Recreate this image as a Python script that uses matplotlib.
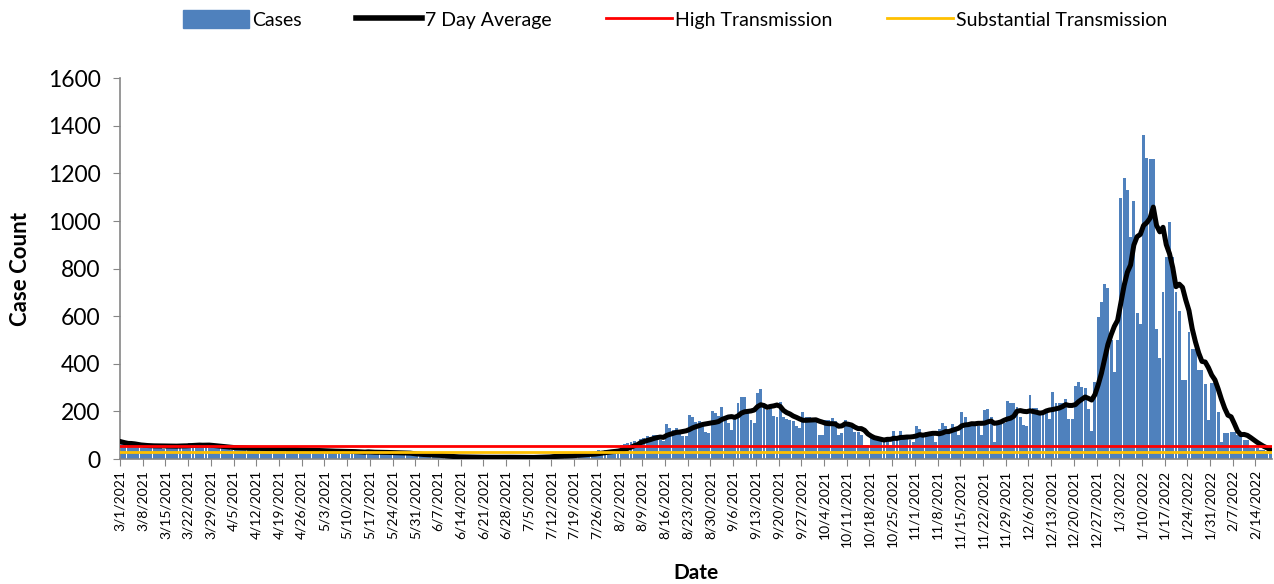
import numpy as np
import pandas as pd
import matplotlib

matplotlib.use("Agg")
import matplotlib.pyplot as plt
from matplotlib.patches import Patch
from matplotlib.lines import Line2D

# daily case counts, 3/1/2021 .. 2/18/2022
cases_mar21 = [72, 65, 60, 64, 58, 50, 45, 62, 58, 55, 60, 57, 48, 44,
               60, 57, 55, 58, 62, 50, 46, 66, 62, 60, 64, 58, 52, 48,
               58, 52, 50]
cases_apr21 = [52, 48, 42, 38, 52, 48, 46, 48, 44, 40, 36, 50, 47, 45,
               46, 43, 39, 35, 46, 42, 40, 42, 38, 34, 31, 42, 38, 36,
               38, 34]
cases_may21 = [30, 27, 38, 35, 33, 35, 31, 28, 25, 36, 33, 31, 29, 26,
               24, 33, 30, 28, 30, 27, 24, 22, 30, 27, 25, 27, 24, 21,
               19, 16, 16]
cases_jun21 = [20, 18, 19, 16, 13, 11, 12, 11, 10, 10, 9, 7, 6, 10,
               9, 8, 9, 7, 5, 4, 10, 8, 8, 9, 7, 6, 5, 9, 8, 7]
cases_jul21 = [8, 7, 5, 4, 6, 10, 10, 11, 10, 8, 7, 16, 14, 15, 16,
               14, 11, 10, 24, 22, 22, 24, 21, 17, 15, 38, 35, 36, 38,
               34, 28]
cases_aug21 = [25, 58, 64, 68, 70, 76, 62, 84, 90, 96, 94, 101, 101, 80,
               75, 147, 129, 122, 130, 109, 97, 95, 185, 178, 157, 160,
               143, 115, 110, 203, 192]
cases_sep21 = [180, 220, 180, 151, 122, 180, 237, 259, 259, 193, 164, 150,
               279, 293, 235, 206, 220, 180, 176, 239, 175, 170, 165, 160,
               140, 130, 199, 175, 175, 170]
cases_oct21 = [165, 101, 101, 164, 164, 174, 160, 101, 110, 164, 150, 140,
               115, 115, 101, 60, 59, 87, 91, 91, 91, 80, 80, 59, 118, 87,
               118, 95, 90, 80, 70]
cases_nov21 = [140, 125, 100, 115, 110, 95, 71, 126, 150, 140, 115, 147,
               126, 101, 199, 175, 150, 140, 145, 140, 101, 206, 210, 175,
               73, 160, 165, 150, 244, 234]
cases_dec21 = [234, 220, 178, 143, 140, 269, 213, 213, 193, 193, 193, 168,
               283, 235, 235, 235, 252, 168, 168, 308, 325, 304, 300, 211,
               119, 325, 596, 661, 735, 720, 500]
cases_jan22 = [367, 500, 1098, 1179, 1130, 934, 1084, 615, 567, 1361, 1263,
               1260, 1260, 546, 426, 700, 850, 997, 850, 700, 620, 332, 332,
               535, 462, 462, 374, 374, 315, 164, 319]
cases_feb22 = [319, 197, 73, 109, 109, 115, 115, 101, 95, 80, 80, 46, 46,
               45, 40, 38, 35, 30]

high_transmission = 55
substantial_transmission = 27.5

cases = np.array(cases_mar21 + cases_apr21 + cases_may21 + cases_jun21 +
                 cases_jul21 + cases_aug21 + cases_sep21 + cases_oct21 +
                 cases_nov21 + cases_dec21 + cases_jan22 + cases_feb22, dtype=float)
dates = pd.date_range("2021-03-01", periods=len(cases), freq="D")
avg7 = pd.Series(cases).rolling(7, min_periods=1).mean().to_numpy()

BLUE = "#4F81BD"
GRAY = "#868686"
plt.rcParams["font.family"] = ["Lato", "DejaVu Sans"]

fig = plt.figure(figsize=(12.74, 5.84), dpi=100)
ax = fig.add_axes([0.0942, 0.214, 0.904, 0.652])

x = np.arange(len(cases)) + 0.5
ax.bar(x, cases, width=0.9, color=BLUE, linewidth=0, zorder=2)
ax.plot(x, avg7, color="black", lw=3.6, solid_joinstyle="round", zorder=3)
ax.axhline(high_transmission, color="#FF0000", lw=2, zorder=4)
ax.axhline(substantial_transmission, color="#FFC000", lw=2, zorder=5)

ax.set_xlim(0, len(cases))
ax.set_ylim(0, 1600)
ax.set_yticks(np.arange(0, 1601, 200))
ax.tick_params(axis="y", labelsize=16.5, length=5, color=GRAY, pad=9)

week_idx = np.arange(0, len(cases), 7)
ax.set_xticks(week_idx)
ax.set_xticklabels([f"{d.month}/{d.day}/{d.year}" for d in dates[week_idx]],
                   rotation=90, fontsize=10)
ax.tick_params(axis="x", length=5, color=GRAY, pad=3)

for s in ["top", "right"]:
    ax.spines[s].set_visible(False)
for s in ["left", "bottom"]:
    ax.spines[s].set_color(GRAY)
    ax.spines[s].set_linewidth(1.2)

ax.set_ylabel("Case Count", fontsize=16, fontweight="bold")
ax.yaxis.set_label_coords(-0.077, 0.5)
fig.text(0.546, 0.008, "Date", fontsize=15, fontweight="bold", ha="center")

handles = [Patch(color=BLUE),
           Line2D([], [], color="black", lw=4),
           Line2D([], [], color="#FF0000", lw=2),
           Line2D([], [], color="#FFC000", lw=2)]
labels = ["Cases", "7 Day Average", "High Transmission", "Substantial Transmission"]
fig.legend(handles, labels, loc="upper center", bbox_to_anchor=(0.53, 1.012),
           ncol=4, frameon=False, fontsize=14, handlelength=3.4,
           handletextpad=0.15, columnspacing=2.8, handleheight=1.0)

fig.savefig("out.png", dpi=100)
